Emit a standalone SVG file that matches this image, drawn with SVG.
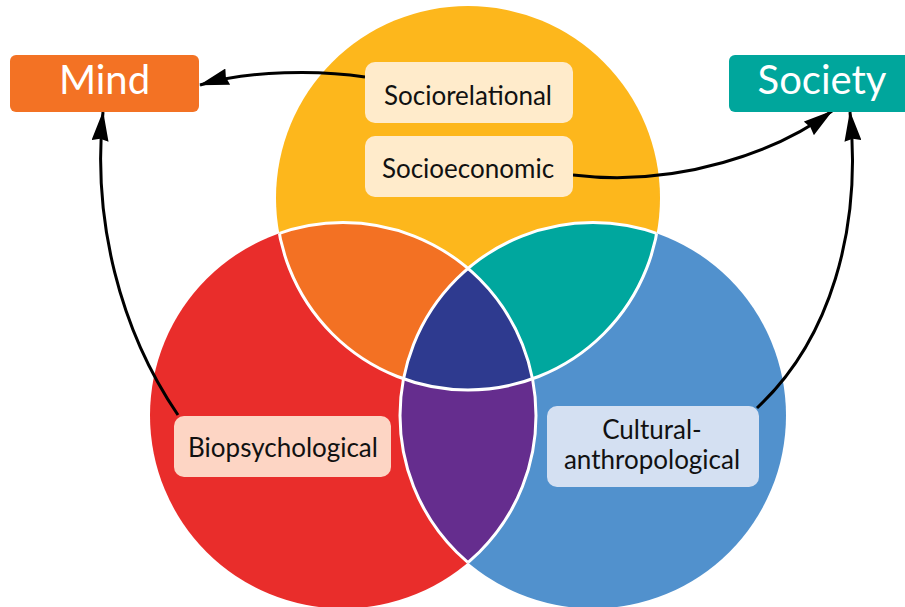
<svg xmlns="http://www.w3.org/2000/svg" width="905" height="607" viewBox="0 0 905 607">
<defs>
<style>
.lbl{font-family:Lato,"Liberation Sans",sans-serif;fill:#111;text-anchor:middle}
.big{font-family:Lato,"Liberation Sans",sans-serif;fill:#fff;text-anchor:middle;font-size:40px}
.conn{fill:none;stroke:#000;stroke-width:3;marker-end:url(#ah)}
.edge{fill:none;stroke:#fff;stroke-width:3}
</style>
<marker id="ah" viewBox="0 0 30 17" refX="29" refY="8.5" markerWidth="30" markerHeight="17" markerUnits="userSpaceOnUse" orient="auto">
<path d="M0,0 L30,8.5 L0,17 L2,8.5 Z" fill="#000"/>
</marker>
<circle id="cy" cx="468" cy="198" r="192"/>
<circle id="cr" cx="343" cy="415.5" r="193"/>
<circle id="cb" cx="593" cy="415.5" r="193"/>
<clipPath id="clipY"><use href="#cy"/></clipPath>
<clipPath id="clipR"><use href="#cr"/></clipPath>
<clipPath id="clipB"><use href="#cb"/></clipPath>
<clipPath id="clipYR" clip-path="url(#clipY)"><use href="#cr"/></clipPath>
<clipPath id="clipRB"><use href="#cr"/><use href="#cb"/></clipPath>
<clipPath id="clipYB"><use href="#cy"/><use href="#cb"/></clipPath>
<clipPath id="clipYRu"><use href="#cy"/><use href="#cr"/></clipPath>
</defs>
<g id="venn">
<use href="#cy" fill="#FDB71C"/>
<use href="#cr" fill="#E92D2B"/>
<use href="#cb" fill="#5191CD"/>
<use href="#cr" fill="#F37123" clip-path="url(#clipY)"/>
<use href="#cb" fill="#00A79E" clip-path="url(#clipY)"/>
<use href="#cb" fill="#652D8E" clip-path="url(#clipR)"/>
<use href="#cb" fill="#2E3A8F" clip-path="url(#clipYR)"/>
<use href="#cy" class="edge" clip-path="url(#clipRB)"/>
<use href="#cr" class="edge" clip-path="url(#clipYB)"/>
<use href="#cb" class="edge" clip-path="url(#clipYRu)"/>
</g>
<g id="connectors">
<path class="conn" d="M365,77 C320,70 250,70 200,85"/>
<path class="conn" d="M573,175 C680,188 780,150 832,111"/>
<path class="conn" d="M178,415 C120,330 92,220 103,112"/>
<path class="conn" d="M757,408 C830,340 862,230 850,112"/>
</g>
<g id="mind">
<rect x="10" y="55" width="189" height="57" rx="6" fill="#F37224"/>
<text class="big" x="104.5" y="94">Mind</text>
</g>
<g id="society">
<rect x="729" y="55" width="190" height="57" rx="6" fill="#00A69C"/>
<text class="big" x="822" y="94">Society</text>
</g>
<g id="sociorelational">
<rect x="365" y="62" width="208" height="61" rx="10" fill="#FFEBCB"/>
<text class="lbl" x="468" y="105" font-size="26">Sociorelational</text>
</g>
<g id="socioeconomic">
<rect x="365" y="136" width="208" height="61" rx="10" fill="#FFEBCB"/>
<text class="lbl" x="468" y="178" font-size="26">Socioeconomic</text>
</g>
<g id="biopsychological">
<rect x="174" y="416" width="217" height="61" rx="10" fill="#FDD5C4"/>
<text class="lbl" x="283" y="457" font-size="26">Biopsychological</text>
</g>
<g id="cultural">
<rect x="547" y="406" width="212" height="81" rx="10" fill="#D4E0F2"/>
<text class="lbl" x="652" y="439" font-size="26">Cultural-</text>
<text class="lbl" x="652" y="469" font-size="26">anthropological</text>
</g>
</svg>
